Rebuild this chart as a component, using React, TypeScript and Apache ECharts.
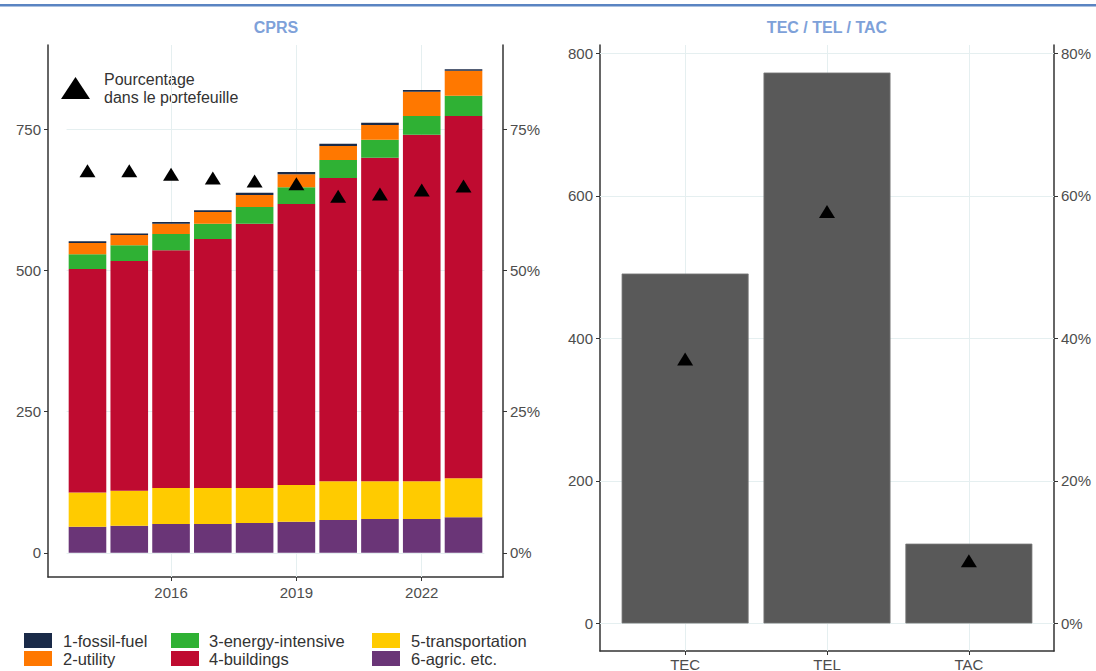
import React, { useEffect, useRef } from "react";
import * as echarts from "echarts";

const years = [2014, 2015, 2016, 2017, 2018, 2019, 2020, 2021, 2022, 2023];
const fossilFuel = [3, 3, 3, 3, 4, 4, 4, 4, 3, 3];
const utility = [20, 18, 18, 21, 21, 23, 25, 26, 43, 44];
const energyIntensive = [26, 28, 29, 27, 30, 30, 32, 32, 33, 36];
const buildings = [396, 407, 421, 441, 468, 498, 537, 573, 614, 642];
const transportation = [61, 62, 64, 64, 62, 65, 69, 67, 67, 69];
const agric = [46, 48, 51, 51, 53, 55, 58, 60, 60, 63];
const cprsPct = [0.677, 0.677, 0.671, 0.664, 0.659, 0.654, 0.632, 0.636, 0.643, 0.65];

const yearTicks = [2016, 2019, 2022];
const leftTicks = [0, 250, 500, 750];
const leftPctTicks = [0, 0.25, 0.5, 0.75];

const tecCategories = ["TEC", "TEL", "TAC"];
const tecValues = [491, 773, 112];
const tecPct = [0.371, 0.578, 0.088];
const rightTicks = [0, 200, 400, 600, 800];
const rightPctTicks = [0, 0.2, 0.4, 0.6, 0.8];

const seriesDefs = [
  { name: "6-agric. etc.", data: agric, color: "#6a3577" },
  { name: "5-transportation", data: transportation, color: "#ffcb00" },
  { name: "4-buildings", data: buildings, color: "#bf0b30" },
  { name: "3-energy-intensive", data: energyIntensive, color: "#2fb134" },
  { name: "2-utility", data: utility, color: "#ff7800" },
  { name: "1-fossil-fuel", data: fossilFuel, color: "#1a2a48" },
];

const FONT = "'Liberation Sans', Arial, sans-serif";
const AXIS_COLOR = "#333333";
const LABEL_COLOR = "#4d4d4d";
const GRID_COLOR = "#e5eff0";

export default function App() {
  const ref = useRef<HTMLDivElement>(null);

  useEffect(() => {
    document.body.style.margin = "0";
    if (!ref.current) return;
    const chart = echarts.init(ref.current, null, { renderer: "svg" });

    const totals = years.map((_, i) =>
      seriesDefs.reduce((s, d) => s + d.data[i], 0)
    );
    const maxTotal = Math.max(...totals);
    const lMin = -0.05 * maxTotal;
    const lMax = 1.05 * maxTotal;
    const xSpan = years[years.length - 1] - years[0] + 0.9;
    const xMin = years[0] - 0.45 - 0.05 * xSpan;
    const xMax = years[years.length - 1] + 0.45 + 0.05 * xSpan;

    // layout of left panel
    const L0 = 48;
    const L1 = 503;
    const ppy = (L1 - L0) / (xMax - xMin);
    const barGridLeft = L0 + (years[0] - 0.5 - xMin) * ppy;
    const barGridRight = L0 + (years[years.length - 1] + 0.5 - xMin) * ppy;

    const rMaxVal = Math.max(...tecValues);
    const rMin = -0.05 * rMaxVal;
    const rMax = 1.05 * rMaxVal;

    const axisLine = { show: true, onZero: false, lineStyle: { color: AXIS_COLOR, width: 1.5 } };
    const axisLabelBase = { fontSize: 15, color: LABEL_COLOR, fontFamily: FONT };

    const gridMarkLine = (ys: number[], xs: (number | string)[]) => ({
      silent: true,
      symbol: "none",
      z: 1,
      animation: false,
      label: { show: false },
      lineStyle: { color: GRID_COLOR, width: 1, type: "solid" },
      emphasis: { disabled: true },
      data: [
        ...ys.map((v) => ({ yAxis: v })),
        ...xs.map((v) => ({ xAxis: v })),
      ],
    });

    const barSeries = seriesDefs.map((d, idx) => ({
      name: d.name,
      type: "bar",
      stack: "cprs",
      xAxisIndex: 2,
      yAxisIndex: 4,
      barWidth: "90%",
      z: 2,
      itemStyle: { color: d.color },
      data: d.data,
      ...(idx === 0 ? { markLine: gridMarkLine(leftTicks, yearTicks.map(String)) } : {}),
    }));

    const legendCommon = {
      orient: "vertical",
      top: 632,
      padding: 0,
      itemWidth: 28,
      itemHeight: 15,
      itemGap: 1,
      icon: "rect",
      selectedMode: false,
    };
    const legendText = (pad: number) => ({
      fontSize: 16.5,
      color: "#333",
      fontFamily: FONT,
      lineHeight: 16,
      padding: [0, 0, 0, pad],
    });

    const option: any = {
      animation: false,
      textStyle: { fontFamily: FONT },
      grid: [
        { left: L0, right: 1096 - L1, top: 45, bottom: 94, outerBoundsMode: "none" },
        { left: 600, right: 42, top: 45, bottom: 20, outerBoundsMode: "none" },
        { left: barGridLeft, right: 1096 - barGridRight, top: 45, bottom: 94, outerBoundsMode: "none" },
      ],
      xAxis: [
        {
          type: "value",
          gridIndex: 0,
          min: xMin,
          max: xMax,
          axisLine,
          axisTick: { show: true, length: 4, customValues: yearTicks, lineStyle: { color: AXIS_COLOR } },
          axisLabel: { ...axisLabelBase, margin: 8, customValues: yearTicks, formatter: (v: number) => String(v) },
          splitLine: { show: false },
        },
        {
          type: "value",
          gridIndex: 1,
          min: 0.4,
          max: 3.6,
          axisLine,
          axisTick: { show: true, length: 4, customValues: [1, 2, 3], lineStyle: { color: AXIS_COLOR } },
          axisLabel: {
            ...axisLabelBase,
            margin: 6,
            customValues: [1, 2, 3],
            formatter: (v: number) => tecCategories[Math.round(v) - 1] ?? "",
          },
          splitLine: { show: false },
        },
        {
          type: "category",
          gridIndex: 2,
          data: years.map(String),
          boundaryGap: true,
          show: false,
        },
      ],
      yAxis: [
        {
          type: "value",
          gridIndex: 0,
          position: "left",
          min: lMin,
          max: lMax,
          axisLine,
          axisTick: { show: true, length: 4, customValues: leftTicks, lineStyle: { color: AXIS_COLOR } },
          axisLabel: { ...axisLabelBase, margin: 7, customValues: leftTicks, formatter: (v: number) => String(v) },
          splitLine: { show: false },
        },
        {
          type: "value",
          gridIndex: 0,
          position: "right",
          min: lMin / 1000,
          max: lMax / 1000,
          axisLine,
          axisTick: { show: true, length: 4, customValues: leftPctTicks, lineStyle: { color: AXIS_COLOR } },
          axisLabel: {
            ...axisLabelBase,
            margin: 7,
            customValues: leftPctTicks,
            formatter: (v: number) => Math.round(v * 100) + "%",
          },
          splitLine: { show: false },
        },
        {
          type: "value",
          gridIndex: 1,
          position: "left",
          min: rMin,
          max: rMax,
          axisLine,
          axisTick: { show: true, length: 4, customValues: rightTicks, lineStyle: { color: AXIS_COLOR } },
          axisLabel: { ...axisLabelBase, margin: 7, customValues: rightTicks, formatter: (v: number) => String(v) },
          splitLine: { show: false },
        },
        {
          type: "value",
          gridIndex: 1,
          position: "right",
          min: rMin / 1000,
          max: rMax / 1000,
          axisLine,
          axisTick: { show: true, length: 4, customValues: rightPctTicks, lineStyle: { color: AXIS_COLOR } },
          axisLabel: {
            ...axisLabelBase,
            margin: 7,
            customValues: rightPctTicks,
            formatter: (v: number) => Math.round(v * 100) + "%",
          },
          splitLine: { show: false },
        },
        {
          type: "value",
          gridIndex: 2,
          min: lMin,
          max: lMax,
          show: false,
          splitLine: { show: false },
        },
      ],
      legend: [
        { ...legendCommon, left: 24, textStyle: legendText(6), data: ["1-fossil-fuel", "2-utility"] },
        { ...legendCommon, left: 171, textStyle: legendText(5), data: ["3-energy-intensive", "4-buildings"] },
        { ...legendCommon, left: 372, textStyle: legendText(6), data: ["5-transportation", "6-agric. etc."] },
      ],
      graphic: [
        { type: "rect", shape: { x: 0, y: 4, width: 1096, height: 2.5 }, style: { fill: "#5a84c2" }, silent: true },
        {
          type: "text",
          x: 276,
          y: 27,
          style: { text: "CPRS", fill: "#7ea1d9", font: `bold 16px ${FONT}`, textAlign: "center", textVerticalAlign: "middle" },
        },
        {
          type: "text",
          x: 827,
          y: 27,
          style: { text: "TEC / TEL / TAC", fill: "#7ea1d9", font: `bold 16px ${FONT}`, textAlign: "center", textVerticalAlign: "middle" },
        },
        {
          type: "polygon",
          shape: { points: [[61, 99], [90, 99], [75.5, 77]] },
          style: { fill: "#000" },
        },
        {
          type: "text",
          x: 104,
          y: 79,
          style: { text: "Pourcentage", fill: "#333", font: `16px ${FONT}`, textVerticalAlign: "middle" },
        },
        {
          type: "text",
          x: 104,
          y: 97,
          style: { text: "dans le portefeuille", fill: "#333", font: `16px ${FONT}`, textVerticalAlign: "middle" },
        },
      ],
      series: [
        ...barSeries,
        {
          name: "Pourcentage",
          type: "scatter",
          xAxisIndex: 0,
          yAxisIndex: 1,
          symbol: "triangle",
          symbolSize: [16, 13],
          z: 5,
          itemStyle: { color: "#000", opacity: 1 },
          data: years.map((y, i) => [y, cprsPct[i]]),
        },
        {
          name: "TEC/TEL/TAC",
          type: "bar",
          xAxisIndex: 1,
          yAxisIndex: 2,
          barWidth: 127,
          z: 2,
          itemStyle: { color: "#595959", borderColor: "#7a7a7a", borderWidth: 0.8 },
          data: tecValues.map((v, i) => [i + 1, v]),
          markLine: gridMarkLine(rightTicks, [1, 2, 3]),
        },
        {
          name: "Pourcentage TEC",
          type: "scatter",
          xAxisIndex: 1,
          yAxisIndex: 3,
          symbol: "triangle",
          symbolSize: [16, 13],
          z: 5,
          itemStyle: { color: "#000", opacity: 1 },
          data: tecPct.map((v, i) => [i + 1, v]),
        },
      ],
    };

    chart.setOption(option);
    return () => chart.dispose();
  }, []);

  return <div ref={ref} style={{ width: 1096, height: 671 }} />;
}
